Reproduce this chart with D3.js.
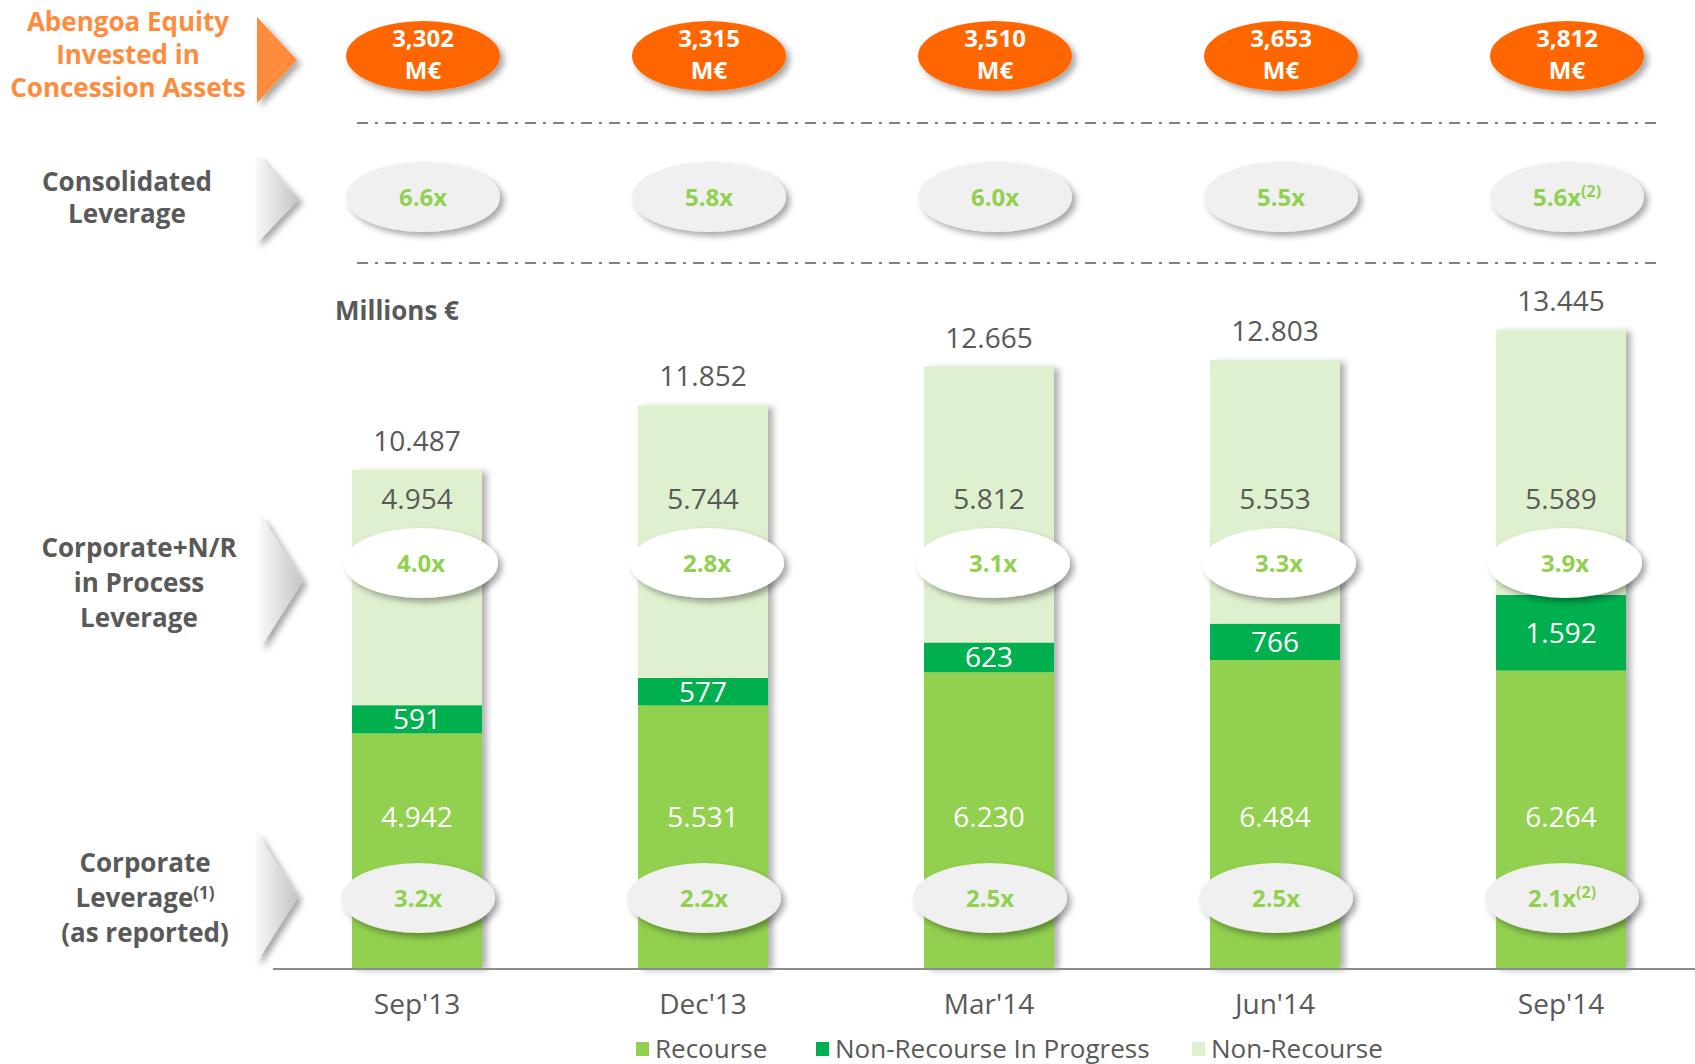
<!DOCTYPE html>
<meta charset="utf-8">
<title>Leverage evolution</title>
<style>

body {
  margin: 0;
  background-color: white;
}

text {
  font-family: "Open Sans", "Noto Sans", sans-serif;
}

</style>
<body>
<script src="https://cdn.jsdelivr.net/npm/d3@7/dist/d3.min.js"></script>
<script>

var categories = ["Sep'13", "Dec'13", "Mar'14", "Jun'14", "Sep'14"];
var recourse = [4942, 5531, 6230, 6484, 6264];
var inProgress = [591, 577, 623, 766, 1592];
var nonRecourse = [4954, 5744, 5812, 5553, 5589];
var equity = [3302, 3315, 3510, 3653, 3812];
var consolidated = ["6.6x", "5.8x", "6.0x", "5.5x", "5.6x"];
var consolidatedNote = ["", "", "", "", "(2)"];
var corpNR = ["4.0x", "2.8x", "3.1x", "3.3x", "3.9x"];
var corporate = ["3.2x", "2.2x", "2.5x", "2.5x", "2.1x"];
var corporateNote = ["", "", "", "", "(2)"];
var seriesNames = ["Recourse", "Non-Recourse In Progress", "Non-Recourse"];

var width = 1695,
    height = 1064,
    baseY = 968,
    colors = ["#92d050", "#00b050", "#dff0cf"],
    ink = "#595959",
    green = "#92d050",
    orange = "#ff6600";

var euro = d3.formatLocale({decimal: ",", thousands: ".", grouping: [3], currency: ["", " €"]}).format(",d"),
    comma = d3.format(",d");

var data = categories.map(function(c, i) {
  return {cat: c, values: [recourse[i], inProgress[i], nonRecourse[i]]};
});
data.forEach(function(d) {
  var y0 = 0;
  d.segs = d.values.map(function(v, k) { var s = {k: k, v: v, y0: y0, y1: y0 + v}; y0 += v; return s; });
  d.total = y0;
});

var x = d3.scaleBand()
    .domain(categories)
    .range([274, 1704])
    .paddingInner(156 / 286)
    .paddingOuter(78 / 286);

var y = d3.scaleLinear()
    .domain([0, 13445])
    .range([baseY, 329.5]);

var svg = d3.select("body").append("svg")
    .attr("width", width)
    .attr("height", height);

var defs = svg.append("defs");

var f = defs.append("filter").attr("id", "shadow")
    .attr("x", "-20%").attr("y", "-20%").attr("width", "150%").attr("height", "150%");
f.append("feDropShadow").attr("dx", 4).attr("dy", 4).attr("stdDeviation", 3)
    .attr("flood-color", "#000").attr("flood-opacity", 0.35);

var fb = defs.append("filter").attr("id", "barShadow")
    .attr("x", "-10%").attr("y", "-5%").attr("width", "130%").attr("height", "110%");
fb.append("feDropShadow").attr("dx", 5).attr("dy", 2).attr("stdDeviation", 3)
    .attr("flood-color", "#000").attr("flood-opacity", 0.3);

var g = defs.append("linearGradient").attr("id", "arrowGrad")
    .attr("x1", 0).attr("x2", 1).attr("y1", 0).attr("y2", 0);
g.append("stop").attr("offset", 0).attr("stop-color", "#f7f7f7");
g.append("stop").attr("offset", 1).attr("stop-color", "#c4c4c4");

// bars
var bars = svg.append("g").selectAll("g")
    .data(data)
  .enter().append("g")
    .attr("filter", "url(#barShadow)");

bars.selectAll("rect")
    .data(function(d) { return d.segs.map(function(s) { s.cat = d.cat; return s; }); })
  .enter().append("rect")
    .attr("x", function(s) { return x(s.cat); })
    .attr("width", x.bandwidth())
    .attr("y", function(s) { return y(s.y1); })
    .attr("height", function(s) { return y(s.y0) - y(s.y1); })
    .style("fill", function(s) { return colors[s.k]; });

// baseline
svg.append("line")
    .attr("x1", 273).attr("x2", width)
    .attr("y1", baseY + 1).attr("y2", baseY + 1)
    .style("stroke", "#8c8c8c")
    .style("stroke-width", 2);

// category axis
var axis = svg.append("g")
    .attr("transform", "translate(0," + baseY + ")")
    .call(d3.axisBottom(x).tickSize(0).tickPadding(26));
axis.select(".domain").remove();
axis.selectAll("text")
    .style("font-family", "'Open Sans', sans-serif")
    .style("font-size", "28px")
    .style("fill", ink);

function cx(d) { return x(d.cat) + x.bandwidth() / 2; }

// totals
svg.append("g").selectAll("text")
    .data(data)
  .enter().append("text")
    .attr("x", cx)
    .attr("y", function(d) { return y(d.total) - 19; })
    .attr("text-anchor", "middle")
    .style("font-size", "28px")
    .style("fill", ink)
    .text(function(d) { return euro(d.total); });

// segment labels
svg.append("g").selectAll("text")
    .data(data)
  .enter().append("text")
    .attr("x", cx)
    .attr("y", 499)
    .attr("dy", "0.36em")
    .attr("text-anchor", "middle")
    .style("font-size", "28px")
    .style("fill", ink)
    .text(function(d) { return euro(d.values[2]); });

svg.append("g").selectAll("text")
    .data(data)
  .enter().append("text")
    .attr("x", cx)
    .attr("y", function(d) { return y((d.segs[1].y0 + d.segs[1].y1) / 2); })
    .attr("dy", "0.36em")
    .attr("text-anchor", "middle")
    .style("font-size", "28px")
    .style("fill", "white")
    .text(function(d) { return euro(d.values[1]); });

svg.append("g").selectAll("text")
    .data(data)
  .enter().append("text")
    .attr("x", cx)
    .attr("y", 817)
    .attr("dy", "0.36em")
    .attr("text-anchor", "middle")
    .style("font-size", "28px")
    .style("fill", "white")
    .text(function(d) { return euro(d.values[0]); });

// ellipse rows
function bubbles(cy, fill, labels, notes, dxs) {
  var row = svg.append("g").selectAll("g")
      .data(data)
    .enter().append("g")
      .attr("transform", function(d, i) { return "translate(" + (cx(d) + dxs) + "," + cy + ")"; });
  row.append("ellipse")
      .attr("rx", 77)
      .attr("ry", 35)
      .attr("filter", "url(#shadow)")
      .style("fill", fill);
  var t = row.append("text")
      .attr("dy", "0.36em")
      .attr("text-anchor", "middle")
      .style("font-size", "24px")
      .style("font-weight", "bold")
      .style("fill", green);
  t.append("tspan").text(function(d, i) { return labels[i]; });
  t.append("tspan")
      .attr("dy", "-0.55em")
      .style("font-size", "16px")
      .text(function(d, i) { return notes ? notes[i] : ""; });
}

// equity ellipses
var eq = svg.append("g").selectAll("g")
    .data(data)
  .enter().append("g")
    .attr("transform", function(d) { return "translate(" + (cx(d) + 6) + ",56)"; });
eq.append("ellipse")
    .attr("rx", 77)
    .attr("ry", 35)
    .attr("filter", "url(#shadow)")
    .style("fill", orange);
eq.append("text")
    .attr("y", -18)
    .attr("dy", "0.36em")
    .attr("text-anchor", "middle")
    .style("font-size", "24px")
    .style("font-weight", "bold")
    .style("fill", "white")
    .text(function(d, i) { return comma(equity[i]); });
eq.append("text")
    .attr("y", 14)
    .attr("dy", "0.36em")
    .attr("text-anchor", "middle")
    .style("font-size", "24px")
    .style("font-weight", "bold")
    .style("fill", "white")
    .text("M€");

bubbles(197, "#f0f0f0", consolidated, consolidatedNote, 6);
bubbles(563, "#ffffff", corpNR, null, 4);
bubbles(898, "#f0f0f0", corporate, corporateNote, 1);

// dash-dot separators
[123, 263].forEach(function(yy) {
  svg.append("line")
      .attr("x1", 357).attr("x2", 1659)
      .attr("y1", yy).attr("y2", yy)
      .style("stroke", "#808080")
      .style("stroke-width", 2)
      .style("stroke-dasharray", "11,7,3,7");
});

// row arrows
function arrow(x0, cy, half, depth, fill) {
  svg.append("path")
      .attr("d", "M" + x0 + "," + (cy - half) + "L" + (x0 + depth) + "," + cy + "L" + x0 + "," + (cy + half) + "Z")
      .attr("filter", "url(#shadow)")
      .style("fill", fill);
}
arrow(257, 60, 43, 40, "#ff8c3c");
arrow(257, 199, 44, 42, "url(#arrowGrad)");
arrow(261, 581, 66, 42, "url(#arrowGrad)");
arrow(257, 897, 65, 41, "url(#arrowGrad)");

// row titles
function title(xc, ys, lines, fill) {
  var t = svg.append("text")
      .attr("text-anchor", "middle")
      .style("font-size", "26px")
      .style("font-weight", "bold")
      .style("fill", fill);
  lines.forEach(function(l, i) {
    t.append("tspan").attr("x", xc).attr("y", ys[i]).attr("dy", "0.36em").text(l[0]);
    if (l[1]) t.append("tspan").attr("dy", "-0.5em").style("font-size", "17px").text(l[1]);
  });
}
title(128, [22, 55, 88], [["Abengoa Equity"], ["Invested in"], ["Concession Assets"]], "#ff8c3c");
title(127, [182, 214], [["Consolidated"], ["Leverage"]], ink);
title(139, [548, 583, 618], [["Corporate+N/R"], ["in Process"], ["Leverage"]], ink);
title(145, [863, 898, 933], [["Corporate"], ["Leverage", "(1)"], ["(as reported)"]], ink);

svg.append("text")
    .attr("x", 335)
    .attr("y", 311)
    .attr("dy", "0.36em")
    .style("font-size", "26px")
    .style("font-weight", "bold")
    .style("fill", ink)
    .text("Millions €");

// legend
var legendX = [636, 816, 1192];
var lg = svg.append("g").selectAll("g")
    .data(seriesNames)
  .enter().append("g")
    .attr("transform", function(d, i) { return "translate(" + legendX[i] + ",1042)"; });
lg.append("rect")
    .attr("width", 13)
    .attr("height", 14)
    .style("fill", function(d, i) { return colors[i]; });
lg.append("text")
    .attr("x", 19)
    .attr("y", 7)
    .attr("dy", "0.36em")
    .style("font-size", "26px")
    .style("fill", ink)
    .text(function(d) { return d; });

</script>
